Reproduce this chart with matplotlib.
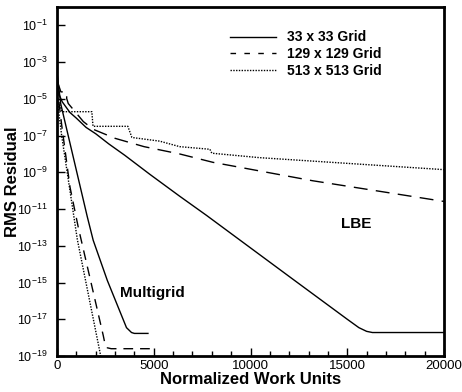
import numpy as np
import matplotlib
matplotlib.use("Agg")
import matplotlib.pyplot as plt
from matplotlib.lines import Line2D
from matplotlib.ticker import FixedLocator, MultipleLocator, NullLocator

plt.rcParams['font.family'] = ['Liberation Sans', 'DejaVu Sans']
plt.rcParams['mathtext.default'] = 'regular'
plt.rcParams['axes.unicode_minus'] = False

# LBE convergence histories (work units, RMS residual)
lbe_33_work = [0, 50, 120, 270, 670, 1000, 1500, 2000, 2680, 3500, 4790, 6340, 7730, 12160,
               15000, 15600, 16000, 16300, 17000, 20000]
lbe_33_res = [4.0e-4, 5.0e-5, 1.6e-5, 6.9e-6, 1.8e-6, 8.9e-7, 2.8e-7, 1.26e-7, 3.5e-8, 8.5e-9,
              7.9e-10, 5.0e-11, 4.5e-12, 1.6e-15, 1.0e-17, 3.5e-18, 2.2e-18, 1.9e-18, 1.9e-18, 1.9e-18]

lbe_129_work = [0, 200, 500, 500, 580, 1360, 1870, 3000, 4500, 6340, 8060, 13200, 20000]
lbe_129_res = [1.0e-4, 2.4e-5, 2.4e-5, 1.05e-5, 5.6e-6, 5.8e-7, 2.2e-7, 7.1e-8, 2.5e-8, 1.0e-8,
               3.5e-9, 3.5e-10, 2.6e-11]

lbe_513_work = [0, 260, 1800, 1860, 3660, 3870, 5300, 6340, 7900, 8000, 10460, 20000]
lbe_513_res = [1.3e-5, 2.0e-6, 2.0e-6, 3.2e-7, 3.2e-7, 7.9e-8, 5.0e-8, 2.5e-8, 1.8e-8, 1.1e-8,
               6.3e-9, 1.4e-9]

# Multigrid convergence histories
mg_33_work = [0, 190, 1560, 1870, 2600, 3590, 3850, 4000, 4700]
mg_33_res = [2.5e-4, 5.5e-6, 4.0e-12, 2.0e-13, 1.3e-15, 3.5e-18, 1.9e-18, 1.7e-18, 1.7e-18]

mg_129_work = [0, 250, 670, 1100, 2390, 2480, 2600, 2800, 4900]
mg_129_res = [5.0e-5, 3.2e-7, 1.6e-10, 1.0e-12, 1.3e-18, 4.5e-19, 2.8e-19, 2.5e-19, 2.5e-19]

mg_513_work = [0, 100, 240, 1050, 2220, 2350]
mg_513_res = [3.2e-5, 1.6e-6, 1.0e-7, 2.2e-13, 1.6e-19, 3.2e-20]

grid_labels = ["33 x 33 Grid", "129 x 129 Grid", "513 x 513 Grid"]

fig = plt.figure(figsize=(4.62, 3.92), dpi=100)
ax = fig.add_axes([0.1234, 0.0918, 0.8377, 0.8903])

lw = 1.0
solid = dict(color='black', lw=lw, linestyle='-')
dashed = dict(color='black', lw=lw, linestyle=(0, (10, 6)))
dotted = dict(color='black', lw=lw, linestyle=(0, (1, 1)))

ax.plot(lbe_33_work, lbe_33_res, **solid)
ax.plot(lbe_129_work, lbe_129_res, **dashed)
ax.plot(lbe_513_work, lbe_513_res, **dotted)
ax.plot(mg_33_work, mg_33_res, **solid)
ax.plot(mg_129_work, mg_129_res, color='black', lw=lw, linestyle=(0, (7, 5)))
ax.plot(mg_513_work, mg_513_res, **dotted)

ax.set_yscale('log')
ax.set_xlim(0, 20000)
ax.set_ylim(1e-19, 1)

ax.yaxis.set_major_locator(FixedLocator(10.0 ** np.arange(-19, 0, 2)))
ax.yaxis.set_minor_locator(NullLocator())
ax.xaxis.set_major_locator(MultipleLocator(5000))
ax.xaxis.set_minor_locator(MultipleLocator(1000))

ax.tick_params(which='both', direction='in', top=False, right=False, width=1.0)
ax.tick_params(axis='x', pad=3, labelsize=9.5)
ax.tick_params(axis='y', pad=7, labelsize=9)
ax.tick_params(which='major', length=6)
ax.tick_params(which='minor', length=3.5)
for sp in ax.spines.values():
    sp.set_linewidth(2.0)

ax.set_xlabel("Normalized Work Units", fontsize=12, fontweight='bold', labelpad=0)
ax.set_ylabel("RMS Residual", fontsize=12, fontweight='bold', labelpad=-2)

ax.text(15460, 1.6e-12, "LBE", fontsize=11, fontweight='bold', ha='center', va='center')
ax.text(3250, 2.6e-16, "Multigrid", fontsize=11, fontweight='bold', ha='left', va='center')

handles = [Line2D([], [], **solid),
           Line2D([], [], color='black', lw=lw, linestyle=(0, (4, 6))),
           Line2D([], [], **dotted)]
leg = ax.legend(handles, grid_labels, loc='upper left', bbox_to_anchor=(0.447, 0.933),
                frameon=False, borderpad=0, borderaxespad=0, handlelength=3.3,
                handletextpad=0.8, labelspacing=0.2, prop={'size': 10, 'weight': 'bold'})

fig.savefig("out.png", dpi=100)
plt.close(fig)
